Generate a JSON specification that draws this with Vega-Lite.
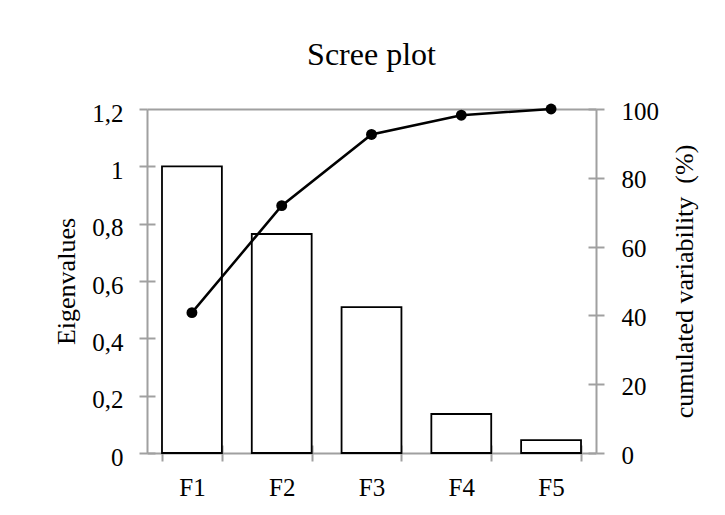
{
  "$schema": "https://vega.github.io/schema/vega-lite/v6.json",
  "width": 449,
  "height": 344,
  "autosize": {"type": "none"},
  "padding": {"left": 147, "top": 109, "right": 129, "bottom": 62},
  "background": "white",
  "config": {
    "font": "Liberation Serif",
    "view": {"stroke": null},
    "axis": {
      "domainColor": "#a0a0a0",
      "domainWidth": 2,
      "tickColor": "#a0a0a0",
      "tickWidth": 2,
      "tickSize": 8,
      "gridColor": "#a0a0a0",
      "gridWidth": 2,
      "labelFont": "Liberation Serif",
      "labelFontSize": 25,
      "labelColor": "black",
      "titleFont": "Liberation Serif",
      "titleFontSize": 26,
      "titleFontWeight": "normal",
      "titleColor": "black"
    }
  },
  "title": {
    "text": "Scree plot",
    "font": "Liberation Serif",
    "fontSize": 32,
    "fontWeight": "normal",
    "color": "black",
    "anchor": "middle",
    "frame": "group",
    "baseline": "alphabetic",
    "offset": 2
  },
  "data": {
    "values": [
      {"factor": "F1", "eigenvalue": 1.0, "cumulative": 40.8},
      {"factor": "F2", "eigenvalue": 0.764, "cumulative": 71.9},
      {"factor": "F3", "eigenvalue": 0.509, "cumulative": 92.6},
      {"factor": "F4", "eigenvalue": 0.136, "cumulative": 98.2},
      {"factor": "F5", "eigenvalue": 0.045, "cumulative": 100}
    ]
  },
  "layer": [
    {
      "mark": {"type": "bar", "fill": "white", "stroke": "black", "strokeWidth": 1.8},
      "encoding": {
        "x": {
          "field": "factor",
          "type": "nominal",
          "sort": null,
          "scale": {"paddingInner": 0.333, "paddingOuter": 0.167},
          "axis": {
            "title": null,
            "labelAngle": 0,
            "tickBand": "extent",
            "labelPadding": 14,
            "grid": true,
            "gridDash": [0, 336, 8, 1000]
          }
        },
        "y": {
          "field": "eigenvalue",
          "type": "quantitative",
          "scale": {"domain": [0, 1.2], "nice": false},
          "axis": {
            "title": "Eigenvalues",
            "orient": "left",
            "values": [0, 0.2, 0.4, 0.6, 0.8, 1, 1.2],
            "format": "~g",
            "labelExpr": "replace(datum.label, '.', ',')",
            "labelPadding": 16,
            "labelOffset": 4,
            "titlePadding": 12,
            "grid": true,
            "gridDash": {"condition": {"test": "datum.value > 1.19", "value": []}, "value": [8, 2000]}
          }
        }
      }
    },
    {
      "mark": {
        "type": "line",
        "color": "black",
        "strokeWidth": 2.5,
        "point": {"filled": true, "size": 119, "color": "black"}
      },
      "encoding": {
        "x": {"field": "factor", "type": "nominal", "sort": null},
        "y": {
          "field": "cumulative",
          "type": "quantitative",
          "scale": {"domain": [0, 100], "nice": false},
          "axis": {
            "title": "cumulated variability\u00a0 (%)",
            "orient": "right",
            "values": [0, 20, 40, 60, 80, 100],
            "labelPadding": 17,
            "labelOffset": 2,
            "titleAngle": 270,
            "titleBaseline": "top",
            "titlePadding": 13,
            "grid": true,
            "gridDash": [8, 2000]
          }
        }
      }
    }
  ],
  "resolve": {"scale": {"y": "independent"}}
}
